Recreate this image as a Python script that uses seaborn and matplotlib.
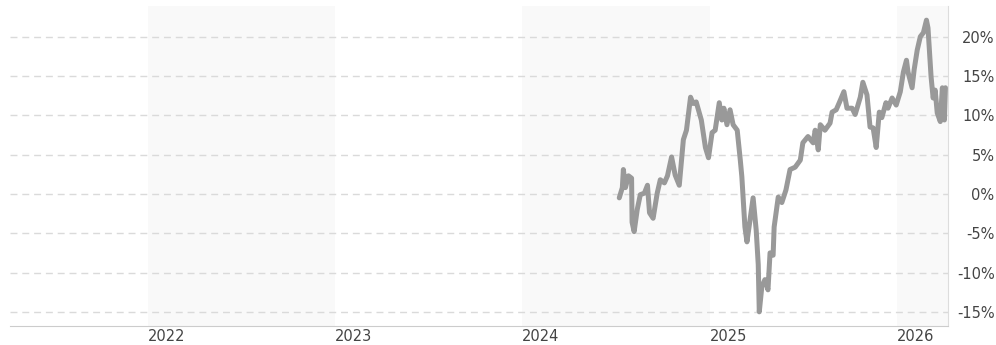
import pandas as pd
import seaborn as sns
import matplotlib.pyplot as plt

# Data (percent change)
dates = [
    "2024-07-08", "2024-07-14", "2024-07-16", "2024-07-20", "2024-07-26", "2024-08-01",
    "2024-08-02", "2024-08-06", "2024-08-12", "2024-08-18", "2024-08-26", "2024-09-01",
    "2024-09-05", "2024-09-12", "2024-09-20", "2024-09-26", "2024-10-04", "2024-10-10",
    "2024-10-18", "2024-10-25", "2024-11-02", "2024-11-10", "2024-11-16", "2024-11-24",
    "2024-11-29", "2024-12-05", "2024-12-15", "2024-12-23", "2024-12-29",
    "2025-01-05", "2025-01-11", "2025-01-19", "2025-01-24", "2025-01-28", "2025-02-03",
    "2025-02-09", "2025-02-15", "2025-02-23", "2025-03-01", "2025-03-04", "2025-03-10",
    "2025-03-14", "2025-03-20", "2025-03-26", "2025-04-01", "2025-04-05", "2025-04-07",
    "2025-04-12", "2025-04-18", "2025-04-24", "2025-04-28", "2025-05-04", "2025-05-06",
    "2025-05-14", "2025-05-21", "2025-05-29", "2025-06-06", "2025-06-16", "2025-06-26",
    "2025-07-01", "2025-07-11", "2025-07-21", "2025-07-25", "2025-07-31", "2025-08-04",
    "2025-08-13", "2025-08-23", "2025-08-27", "2025-09-04", "2025-09-10", "2025-09-19",
    "2025-09-25", "2025-10-05", "2025-10-11", "2025-10-21", "2025-10-26", "2025-11-03",
    "2025-11-09", "2025-11-15", "2025-11-21", "2025-11-27", "2025-12-02", "2025-12-10",
    "2025-12-14", "2025-12-22", "2025-12-30",
    "2026-01-07", "2026-01-13", "2026-01-19", "2026-01-22", "2026-01-30", "2026-02-03",
    "2026-02-09", "2026-02-15", "2026-02-21", "2026-02-27", "2026-03-02", "2026-03-08",
    "2026-03-12", "2026-03-16", "2026-03-20", "2026-03-26", "2026-03-30", "2026-04-03",
    "2026-04-05",
]
values = [
    -0.5, 0.8, 3.1, 0.8, 2.3, 2.0,
    -3.6, -4.8, -2.0, -0.1, 0.1, 1.1,
    -2.4, -3.1, 0.1, 1.8, 1.4, 2.3,
    4.7, 2.4, 1.1, 6.9, 8.1, 12.3,
    11.5, 11.7, 9.4, 5.9, 4.6,
    7.8, 8.1, 11.6, 9.4, 10.9, 8.8,
    10.7, 8.8, 8.1, 4.3, 2.2, -4.2,
    -6.1, -3.3, -0.5, -4.6, -9.0, -15.0,
    -11.8, -10.9, -12.2, -7.5, -7.8, -4.2,
    -0.4, -1.1, 0.5, 3.1, 3.4, 4.3,
    6.5, 7.3, 6.5, 8.1, 5.6, 8.8,
    8.1, 9.0, 10.4, 10.7, 11.6, 13.0,
    10.9, 10.9, 10.1, 12.3, 14.2, 12.6,
    8.5, 8.4, 5.9, 10.4, 9.7, 11.6,
    10.9, 12.2, 11.3,
    13.0, 15.5, 17.0, 15.5, 13.5, 15.8,
    18.3, 20.0, 20.5, 22.1, 21.1, 14.9,
    12.2, 13.2, 10.3, 9.2, 13.5, 9.4,
    13.5,
]

years = [2022, 2023, 2024, 2025, 2026]
shaded_years = [2022, 2024, 2026]
y_ticks = [-15, -10, -5, 0, 5, 10, 15, 20]

df = pd.DataFrame({"date": pd.to_datetime(dates), "pct": values})

sns.set_style("white")
plt.rcParams["font.family"] = ["DejaVu Sans"]

fig = plt.figure(figsize=(9.96, 3.45), dpi=100)
ax = fig.add_axes([10 / 996, 19 / 345, 938 / 996, 320 / 345])

# alternating year bands
for yr in shaded_years:
    ax.axvspan(pd.Timestamp(f"{yr}-01-01"), pd.Timestamp(f"{yr + 1}-01-01"),
               color="#f9f9f9", zorder=0, lw=0)

sns.lineplot(data=df, x="date", y="pct", ax=ax, color="#999999",
             linewidth=3.6, zorder=3)

ax.set_xlim(pd.Timestamp("2021-04-07"), pd.Timestamp("2026-04-10"))
ax.set_ylim(-16.8, 23.9)

# x axis: year labels left-aligned at the start of each year
ax.set_xticks([pd.Timestamp(f"{y}-01-01") for y in years])
ax.set_xticklabels([str(y) for y in years])
for lab in ax.get_xticklabels():
    lab.set_ha("left")
ax.tick_params(axis="x", length=0, pad=2, labelsize=10.5, labelcolor="#444444")

# y axis on the right
ax.yaxis.tick_right()
ax.set_yticks(y_ticks)
ax.set_yticklabels([f"{v}%" for v in y_ticks])
for lab in ax.get_yticklabels():
    lab.set_ha("right")
ax.tick_params(axis="y", length=0, pad=33.5, labelsize=10.5, labelcolor="#444444")

ax.grid(axis="y", color="#dadada", linestyle=(0, (5, 3.5)), linewidth=1)
ax.grid(axis="x", visible=False)
ax.set_axisbelow(True)

ax.set_xlabel("")
ax.set_ylabel("")
for side in ["top", "left"]:
    ax.spines[side].set_visible(False)
ax.spines["bottom"].set_color("#cccccc")
ax.spines["right"].set_color("#dddddd")

fig.savefig("out.png", dpi=100)
